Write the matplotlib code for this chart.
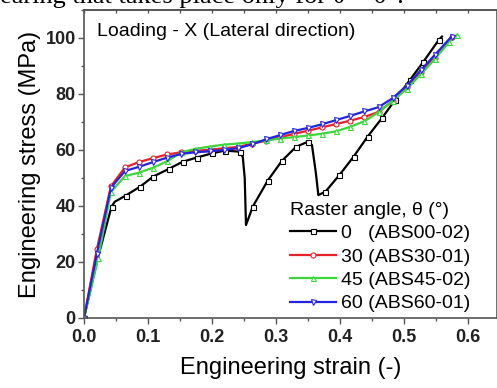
import matplotlib.pyplot as plt
from matplotlib.ticker import MultipleLocator

plt.rcParams['font.family'] = ['Liberation Sans', 'DejaVu Sans']

# 0 deg (ABS00-02)
x0 = [0, 0.02, 0.043, 0.048, 0.065, 0.0875, 0.108, 0.132, 0.154, 0.176, 0.2, 0.22, 0.243,
      0.248, 0.251, 0.253, 0.2636, 0.287, 0.309, 0.331, 0.35, 0.356, 0.362, 0.366, 0.377,
      0.399, 0.421, 0.443, 0.465, 0.486, 0.509, 0.530, 0.554, 0.559]
y0 = [0, 20, 39.8, 41.5, 43.7, 46.9, 50.5, 53.2, 55.8, 57.3, 58.8, 59.8, 59.4,
      57.5, 50, 33.2, 39.8, 49.1, 56.1, 61.1, 63, 61.8, 52, 43.9, 45.1,
      51.1, 57.6, 64.8, 71.3, 77.9, 85, 91.5, 99.3, 100.5]
mark0 = [0, 2, 4, 5, 6, 7, 8, 9, 10, 11, 12, 16, 17, 18, 19, 20, 24, 25, 26, 27, 28, 29, 30, 31, 32]

# 30 deg (ABS30-01)
x30 = [0, 0.02, 0.042, 0.064, 0.086, 0.108, 0.13, 0.152, 0.174, 0.196, 0.218, 0.24, 0.262,
       0.284, 0.306, 0.328, 0.35, 0.372, 0.394, 0.416, 0.438, 0.46, 0.482, 0.504, 0.526,
       0.548, 0.574]
y30 = [0, 24.5, 47, 53.8, 55.7, 57.1, 58.4, 59.2, 59.7, 60.1, 60.6, 61.1, 62.2,
       63.3, 64.5, 65.8, 66.9, 68.1, 69.3, 70.5, 71.8, 73.6, 77.5, 82.5, 88,
       93, 100.5]

# 45 deg (ABS45-02)
x45 = [0, 0.022, 0.042, 0.064, 0.086, 0.108, 0.13, 0.152, 0.174, 0.196, 0.218, 0.24, 0.262,
       0.284, 0.306, 0.328, 0.35, 0.372, 0.394, 0.416, 0.438, 0.46, 0.482, 0.504, 0.526,
       0.548, 0.57, 0.582]
y45 = [0, 21.3, 45, 50.7, 51.9, 53.7, 56, 59.2, 60.4, 61.2, 61.9, 62.3, 62.8,
       63.4, 64.1, 64.6, 65.2, 65.8, 66.7, 68.3, 70.3, 73.5, 77.6, 81.8, 87,
       92.5, 98.5, 101]

# 60 deg (ABS60-01)
x60 = [0, 0.02, 0.042, 0.064, 0.086, 0.108, 0.13, 0.152, 0.174, 0.196, 0.218, 0.24, 0.262,
       0.284, 0.306, 0.328, 0.35, 0.372, 0.394, 0.416, 0.438, 0.46, 0.482, 0.504, 0.526,
       0.548, 0.574]
y60 = [0, 23, 46.5, 52.5, 54, 55.7, 57.3, 58.6, 59.2, 59.5, 60, 60.6, 62,
       63.8, 65.3, 66.8, 67.9, 69.2, 70.7, 72.2, 73.8, 75.3, 78.5, 83, 88.5,
       94, 100.5]

labels = ['0   (ABS00-02)', '30 (ABS30-01)', '45 (ABS45-02)', '60 (ABS60-01)']

fig = plt.figure(figsize=(4.97, 3.88), dpi=100)
ax = fig.add_axes([84 / 497, 1 - 318 / 388, 413 / 497, 308 / 388])

kw = dict(lw=1.6, ms=3.6, mew=0.8, mfc='white')
ax.plot(x0, y0, color='black', marker='s', markevery=mark0, label=labels[0], **kw)
ax.plot(x30, y30, color='#e8202a', marker='o', label=labels[1], **kw)
ax.plot(x45, y45, color='#3ad63a', marker='^', label=labels[2], **kw)
ax.plot(x60, y60, color='#2424e0', marker='v', label=labels[3], **kw)

ax.set_xlim(0, 0.645)
ax.set_ylim(0, 110)
ax.xaxis.set_minor_locator(MultipleLocator(0.05))
ax.yaxis.set_minor_locator(MultipleLocator(10))
ax.set_yticks([0, 20, 40, 60, 80, 100])
ax.set_xticks([0.0, 0.1, 0.2, 0.3, 0.4, 0.5, 0.6])
ax.set_xticklabels(['0.0', '0.1', '0.2', '0.3', '0.4', '0.5', '0.6'])
ax.tick_params(which='both', direction='out', labelsize=13, color='#555555')
ax.tick_params(axis='x', pad=4)
ax.tick_params(axis='y', pad=2)
ax.tick_params(which='major', length=4, width=1)
ax.tick_params(which='minor', length=2.4, width=1)
for lab in ax.get_xticklabels() + ax.get_yticklabels():
    lab.set_fontweight('bold')
    lab.set_color('#222222')

top = ax.secondary_xaxis('top')
top.xaxis.set_major_locator(MultipleLocator(0.1))
top.xaxis.set_minor_locator(MultipleLocator(0.05))
top.tick_params(which='both', direction='in', labeltop=False, color='#555555', width=1, length=2.4)
top.spines['top'].set_color('#555555')
top.spines['top'].set_linewidth(1.2)

for s in ax.spines.values():
    s.set_color('#555555')
    s.set_linewidth(1.2)

ax.set_xlabel('Engineering strain (-)', fontsize=17, labelpad=8)
ax.set_ylabel('Engineering stress (MPa)', fontsize=17, labelpad=3)

ax.text(0.02, 102.5, 'Loading - X (Lateral direction)', fontsize=14, va='center', ha='left')

leg = ax.legend(loc='lower left', bbox_to_anchor=(0.47, -0.02), frameon=False,
                fontsize=14, title='Raster angle, θ (°)', title_fontsize=14,
                handlelength=2.4, handletextpad=0.25, labelspacing=0.3,
                borderaxespad=0.2, alignment='left')

fig.text(0.0, 1 - 3.5 / 388, 'earing that takes place only for θ = 0°.',
         family=['Liberation Serif', 'DejaVu Serif'], fontsize=19, va='baseline', ha='left')

fig.savefig('out.png', dpi=100)
